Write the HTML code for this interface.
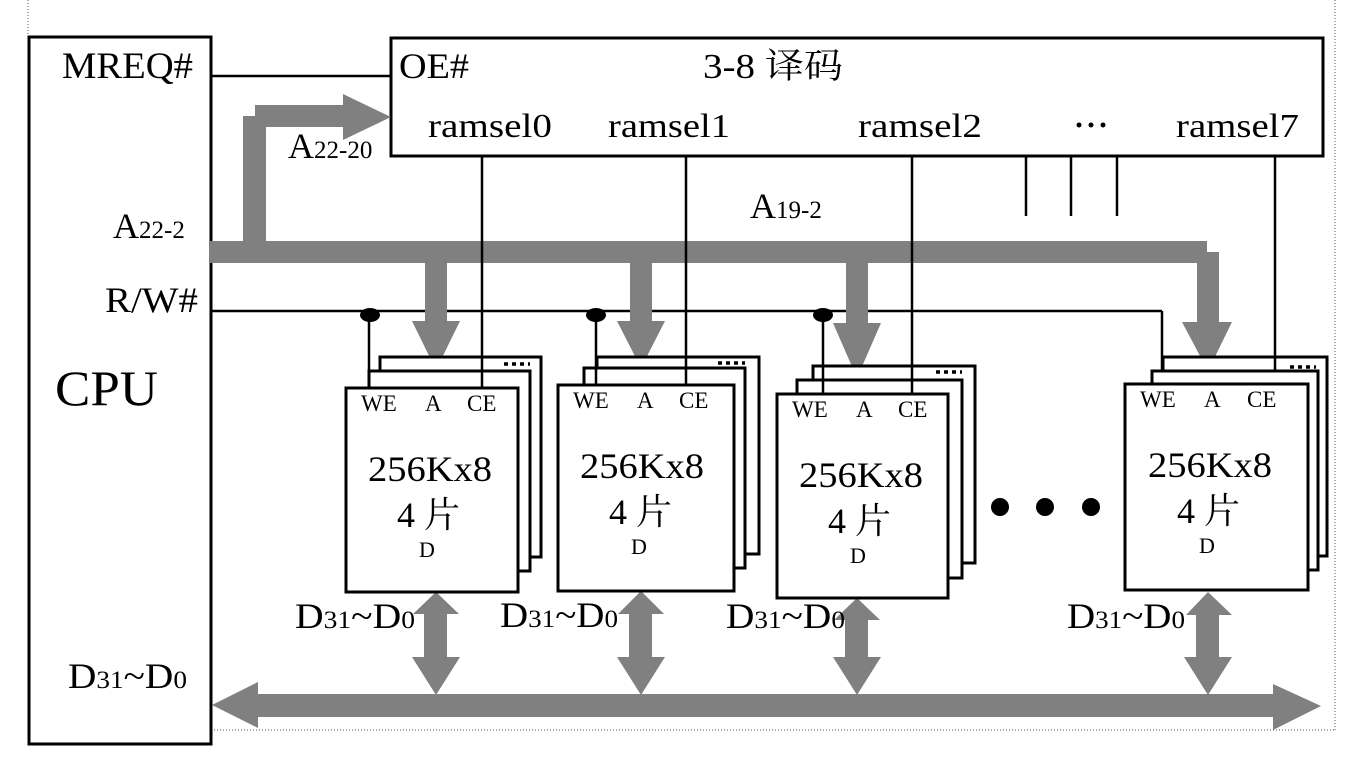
<!DOCTYPE html>
<html><head><meta charset="utf-8"><style>
html,body{margin:0;padding:0;background:#fff;}
svg{display:block;}
text{font-family:"Liberation Serif","Noto Serif CJK SC",serif;fill:#000;}
</style></head><body>
<svg width="1347" height="767" viewBox="0 0 1347 767" xmlns="http://www.w3.org/2000/svg">
<g stroke="#555" stroke-width="1" stroke-dasharray="1,2" fill="none">
<line x1="28" y1="0" x2="28" y2="730"/>
<line x1="28" y1="730" x2="1335" y2="730"/>
<line x1="1335" y1="0" x2="1335" y2="730"/>
</g>
<rect x="29" y="37" width="182" height="707" fill="#fff" stroke="#000" stroke-width="3"/>
<rect x="391" y="38" width="932" height="118" fill="#fff" stroke="#000" stroke-width="3"/>
<g stroke="#000" stroke-width="2.5" fill="none">
<line x1="211" y1="76" x2="391" y2="76"/>
<line x1="211" y1="311" x2="1162" y2="311"/>
<line x1="1162" y1="311" x2="1162" y2="384"/>
<line x1="1026" y1="156" x2="1026" y2="216"/>
<line x1="1071" y1="156" x2="1071" y2="216"/>
<line x1="1117" y1="156" x2="1117" y2="216"/>
</g>
<g fill="#808080">
<rect x="243" y="116" width="23" height="130"/>
<rect x="255" y="105" width="90" height="22"/>
<polygon points="343,94 391,117 343,140"/>
<rect x="209" y="241" width="998" height="22"/>
<rect x="1197" y="252" width="22" height="72"/>
<polygon points="1182,322 1232,322 1208,371"/>
<rect x="425" y="263" width="22" height="60"/>
<polygon points="412,321 460,321 436,370"/>
<rect x="630" y="263" width="22" height="60"/>
<polygon points="617,321 665,321 641,368"/>
<rect x="846" y="263" width="22" height="62"/>
<polygon points="833,323 881,323 857,378"/>
<rect x="256" y="694" width="1020" height="23"/>
<polygon points="258,682 212,705 258,728"/>
<polygon points="1273,684 1321,706 1273,730"/>
<rect x="424" y="612" width="23" height="48"/><polygon points="413,614 459,614 436,592"/><polygon points="412,657 460,657 436,695"/>
<rect x="629" y="612" width="23" height="48"/><polygon points="618,614 664,614 641,591"/><polygon points="617,657 665,657 641,695"/>
<rect x="845" y="618" width="23" height="42"/><polygon points="834,620 880,620 857,598"/><polygon points="833,657 881,657 857,695"/>
<rect x="1196" y="612" width="23" height="48"/><polygon points="1186,615 1232,615 1208,592"/><polygon points="1184,657 1232,657 1208,695"/>
</g>
<g fill="#fff" stroke="#000" stroke-width="3">
<rect x="380" y="357" width="161" height="200"/><rect x="369" y="371" width="161" height="200"/><rect x="346" y="388" width="172" height="204"/>
<rect x="597" y="357" width="162" height="197"/><rect x="584" y="368" width="161" height="200"/><rect x="558" y="385" width="176" height="206"/>
<rect x="813" y="366" width="162" height="197"/><rect x="797" y="380" width="165" height="198"/><rect x="777" y="394" width="171" height="204"/>
<rect x="1163" y="357" width="164" height="199"/><rect x="1152" y="371" width="166" height="199"/><rect x="1125" y="384" width="183" height="206"/>
</g>
<g stroke="#000" stroke-width="3.5" stroke-dasharray="4,4">
<line x1="504" y1="364" x2="530" y2="364"/>
<line x1="718" y1="363" x2="745" y2="363"/>
<line x1="936" y1="372" x2="962" y2="372"/>
<line x1="1290" y1="367" x2="1316" y2="367"/>
</g>
<g stroke="#000" stroke-width="2.5">
<line x1="369" y1="315" x2="369" y2="388"/><line x1="482" y1="156" x2="482" y2="388"/>
<line x1="596" y1="315" x2="596" y2="385"/><line x1="686" y1="156" x2="686" y2="385"/>
<line x1="823" y1="315" x2="823" y2="394"/><line x1="912" y1="156" x2="912" y2="394"/>
<line x1="1275" y1="156" x2="1275" y2="371"/>
</g>
<g fill="#000">
<ellipse cx="370" cy="315" rx="10" ry="7"/>
<ellipse cx="596" cy="315" rx="10" ry="7"/>
<ellipse cx="823" cy="315" rx="10" ry="7"/>
<circle cx="1079" cy="125" r="2.5"/><circle cx="1091" cy="125" r="2.5"/><circle cx="1103" cy="125" r="2.5"/>
<circle cx="1000" cy="507" r="9"/><circle cx="1045" cy="507" r="9"/><circle cx="1091" cy="507" r="9"/>
</g>
<text x="62" y="78" font-size="37" textLength="131" lengthAdjust="spacingAndGlyphs">MREQ#</text>
<text x="399" y="78" font-size="36" textLength="70" lengthAdjust="spacingAndGlyphs">OE#</text>
<text x="703" y="78" font-size="35" textLength="140" lengthAdjust="spacingAndGlyphs">3-8 译码</text>
<text x="428" y="137" font-size="34" textLength="124" lengthAdjust="spacingAndGlyphs">ramsel0</text>
<text x="608" y="137" font-size="34" textLength="122" lengthAdjust="spacingAndGlyphs">ramsel1</text>
<text x="858" y="137" font-size="34" textLength="124" lengthAdjust="spacingAndGlyphs">ramsel2</text>
<text x="1176" y="137" font-size="34" textLength="123" lengthAdjust="spacingAndGlyphs">ramsel7</text>
<text x="288" y="158" font-size="36">A<tspan font-size="25">22-20</tspan></text>
<text x="113" y="238" font-size="36">A<tspan font-size="25">22-2</tspan></text>
<text x="750" y="218" font-size="36">A<tspan font-size="25">19-2</tspan></text>
<text x="105" y="312" font-size="36" textLength="93" lengthAdjust="spacingAndGlyphs">R/W#</text>
<text x="55" y="405" font-size="50" textLength="103" lengthAdjust="spacingAndGlyphs">CPU</text>
<g font-size="36">
<text x="68" y="688" textLength="119" lengthAdjust="spacingAndGlyphs">D<tspan font-size="25">31</tspan>~D<tspan font-size="25">0</tspan></text>
<text x="295" y="628" textLength="120" lengthAdjust="spacingAndGlyphs">D<tspan font-size="25">31</tspan>~D<tspan font-size="25">0</tspan></text>
<text x="500" y="627" textLength="118" lengthAdjust="spacingAndGlyphs">D<tspan font-size="25">31</tspan>~D<tspan font-size="25">0</tspan></text>
<text x="726" y="628" textLength="119" lengthAdjust="spacingAndGlyphs">D<tspan font-size="25">31</tspan>~D<tspan font-size="25">0</tspan></text>
<text x="1067" y="628" textLength="118" lengthAdjust="spacingAndGlyphs">D<tspan font-size="25">31</tspan>~D<tspan font-size="25">0</tspan></text>
</g>
<g font-size="23">
<text x="361" y="411">WE</text><text x="425" y="411">A</text><text x="467" y="411">CE</text>
<text x="573" y="408">WE</text><text x="637" y="408">A</text><text x="679" y="408">CE</text>
<text x="792" y="417">WE</text><text x="856" y="417">A</text><text x="898" y="417">CE</text>
<text x="1140" y="407">WE</text><text x="1204" y="407">A</text><text x="1247" y="407">CE</text>
</g>
<g font-size="36">
<text x="368" y="481" textLength="124" lengthAdjust="spacingAndGlyphs">256Kx8</text>
<text x="397" y="527">4 片</text>
<text x="580" y="478" textLength="124" lengthAdjust="spacingAndGlyphs">256Kx8</text>
<text x="609" y="524">4 片</text>
<text x="799" y="487" textLength="124" lengthAdjust="spacingAndGlyphs">256Kx8</text>
<text x="828" y="533">4 片</text>
<text x="1148" y="477" textLength="124" lengthAdjust="spacingAndGlyphs">256Kx8</text>
<text x="1177" y="523">4 片</text>
</g>
<g font-size="22">
<text x="419" y="557">D</text>
<text x="631" y="554">D</text>
<text x="850" y="563">D</text>
<text x="1199" y="553">D</text>
</g>
</svg>
</body></html>
